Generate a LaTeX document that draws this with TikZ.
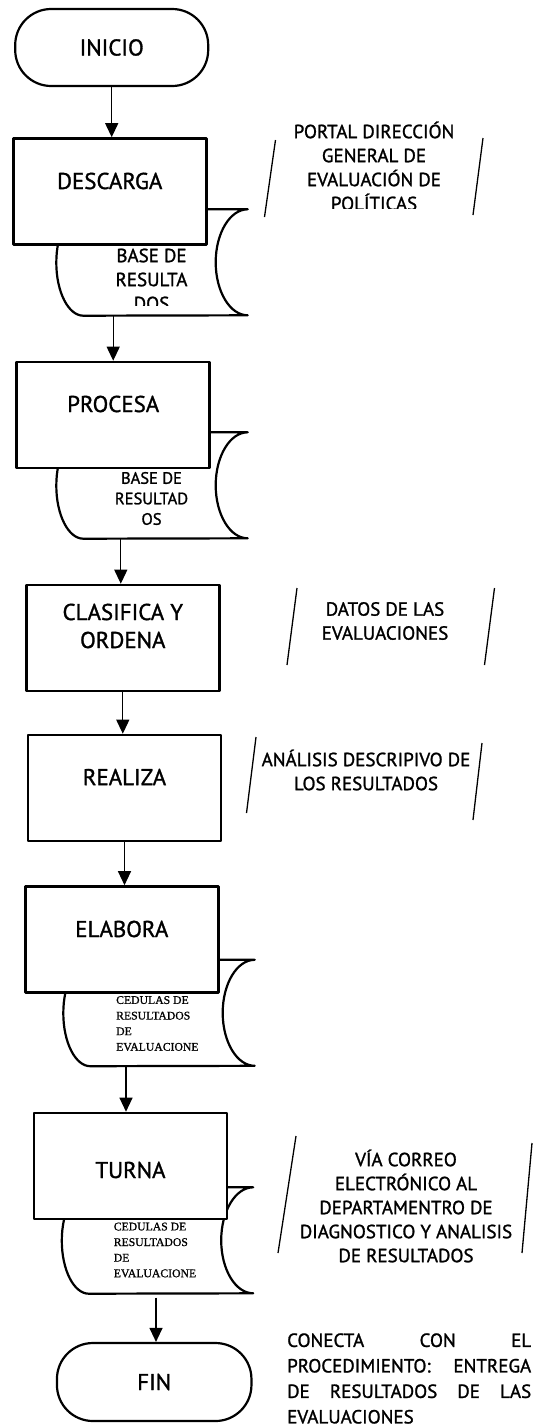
\documentclass[tikz,border=0pt]{standalone}
\usepackage{fontspec}
\setmainfont{PT Sans}[FakeBold=1.3]
\newfontfamily\serifa{Liberation Serif}[FakeBold=1]
\usetikzlibrary{arrows.meta}
\newcommand\fgrande{\fontsize{22.9}{28}\selectfont}
\newcommand\fmedio{\fontsize{19}{24}\selectfont}
\newcommand\fchico{\fontsize{16.5}{20.5}\selectfont}
\newcommand\fced{\serifa\fontsize{11.7}{15.6}\selectfont}
% contorno del simbolo de datos almacenados
\newcommand\almacen[1]{%
  \draw[line width=2.2pt] ([xshift=27pt]#1.north west) -- (#1.north east)
    arc[start angle=90,end angle=270,x radius=32pt,y radius=53pt]
    -- ([xshift=27pt]#1.south west)
    arc[start angle=270,end angle=90,x radius=27pt,y radius=53pt] -- cycle;}
\begin{document}
\begin{tikzpicture}[x=1pt,y=1pt,line join=round,
  caja/.style={draw,line width=2.6pt,fill=white,minimum width=193pt,minimum height=106pt,inner sep=0pt},
  term/.style={draw,line width=2.2pt,fill=white,rounded corners=36pt,minimum width=193pt,minimum height=77pt,inner sep=0pt,font=\fgrande},
  alm/.style={minimum width=191pt,minimum height=106pt,inner sep=0pt},
  etq/.style={font=\fgrande,align=center,inner sep=0pt},
  nota/.style={font=\fmedio,align=center,inner sep=0pt},
  txtalm/.style={align=center,inner sep=0pt},
  txtced/.style={font=\fced,align=left,inner sep=0pt,anchor=west},
  flecha/.style={line width=1.2pt,-{Triangle[length=14pt,width=13pt]}},
  raya/.style={line width=1.3pt}]
\fill[white] (0,0) rectangle (534,-1427);
\path[use as bounding box] (0,0) rectangle (534,-1427);

\node[alm] (bd1) at (152,-262.5) {}; \almacen{bd1}
\node[alm] (bd2) at (152,-485.5) {}; \almacen{bd2}
\node[alm] (bd3) at (159,-1013) {}; \almacen{bd3}
\node[alm] (bd4) at (157.5,-1240.5) {}; \almacen{bd4}

\node[term] (inicio) at (111.7,-47.5) {INICIO};
\node[caja,label={[etq,yshift=10.5pt]center:DESCARGA}] (descarga) at (109.7,-191.5) {};
\node[caja,label={[etq,yshift=11pt]center:PROCESA}] (procesa) at (113.2,-415) {};
\node[caja,label={[etq,yshift=12pt]center:{CLASIFICA Y\\ORDENA}}] (clasifica) at (122.8,-638) {};
\node[caja,label={[etq,yshift=11pt]center:REALIZA}] (realiza) at (124.5,-788) {};
\node[caja,label={[etq,yshift=10.5pt]center:ELABORA}] (elabora) at (121.8,-939.5) {};
\node[caja,label={[etq,yshift=-4pt]center:TURNA}] (turna) at (130.5,-1166) {};
\node[term,minimum width=194.5pt,minimum height=78pt] (fin) at (154.2,-1382) {FIN};

\begin{scope}
\clip (40,-246) rectangle (260,-305);
\node[txtalm,font=\fmedio] (tbd1) at (151.5,-279.5) {BASE DE\\RESULTA\\DOS};
\end{scope}
\node[txtalm,font=\fchico] (tbd2) at (151.5,-498.5) {BASE DE\\RESULTAD\\OS};
\node[txtced] (tbd3) at (116,-1023.5) {CEDULAS DE\\RESULTADOS\\DE\\EVALUACIONE};
\node[txtced] (tbd4) at (113.6,-1250) {CEDULAS DE\\RESULTADOS\\DE\\EVALUACIONE};

\draw[flecha] (inicio.south) -- (inicio.south |- descarga.north);
\draw[flecha] (procesa.north |- bd1.south) -- (procesa.north);
\draw[flecha] ([xshift=-2pt]clasifica.north |- bd2.south) -- ([xshift=-2pt]clasifica.north);
\draw[flecha] (clasifica.south) -- (clasifica.south |- realiza.north);
\draw[flecha] (realiza.south) -- (realiza.south |- elabora.north);
\draw[flecha] ([xshift=-4.5pt]turna.north |- bd3.south) -- ([xshift=-4.5pt]turna.north);
\draw[flecha,shorten <=4pt] ([xshift=1.8pt]fin.north |- bd4.south) -- ([xshift=1.8pt]fin.north);

\begin{scope}
\clip (250,-100) rectangle (534,-208);
\node[nota] (n1) at (374,-166) {PORTAL DIRECCIÓN\\GENERAL DE\\EVALUACIÓN DE\\POLÍTICAS};
\end{scope}
\draw[raya] (275.5,-140) -- (264.5,-217);
\draw[raya] (483,-138) -- (473,-215);

\node[nota] (n2) at (385,-621) {DATOS DE LAS\\EVALUACIONES};
\draw[raya] (297,-588) -- (287,-665);
\draw[raya] (494.5,-588) -- (484.5,-665);

\node[nota] (n3) at (366,-770) {ANÁLISIS DESCRIPIVO DE\\LOS RESULTADOS};
\draw[raya] (256,-737) -- (246.5,-813);
\draw[raya] (482,-743) -- (473,-820);

\node[nota] (n4) at (406,-1206) {VÍA CORREO\\ELECTRÓNICO AL\\DEPARTAMENTRO DE\\DIAGNOSTICO Y ANALISIS\\DE RESULTADOS};
\draw[raya] (296,-1136) -- (278,-1253);
\draw[raya] (532,-1143) -- (522,-1253);

\node[nota,text width=244pt,align=left,anchor=west,font=\fontsize{19}{25.5}\selectfont] (n5) at (287,-1378.5)
  {CONECTA \hfill CON \hfill EL\\PROCEDIMIENTO: \hfill ENTREGA\\DE \hfill RESULTADOS \hfill DE \hfill LAS\\EVALUACIONES};
\end{tikzpicture}
\end{document}
